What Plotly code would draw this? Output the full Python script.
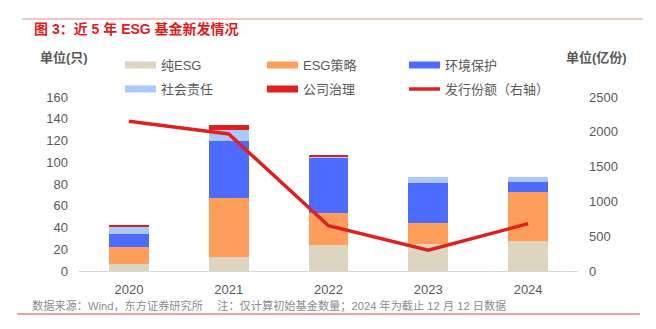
import plotly.graph_objects as go

# ---- data ----
years = ["2020", "2021", "2022", "2023", "2024"]
pure_esg = [6, 13, 24, 25, 28]          # 纯ESG
esg_strategy = [16, 54, 29, 19, 45]     # ESG策略
environment = [12, 53, 51, 37, 9]       # 环境保护
social = [7, 10, 1, 5, 4]               # 社会责任
governance = [1, 4, 1, 0, 0]            # 公司治理
issue_shares = [2150, 1970, 650, 300, 680]  # 发行份额（亿份，右轴）

left_ticks = [0, 20, 40, 60, 80, 100, 120, 140, 160]
right_ticks = [0, 500, 1000, 1500, 2000, 2500]

series = [
    ("纯ESG", pure_esg, "#ddd5bf"),
    ("ESG策略", esg_strategy, "#ff9d5a"),
    ("环境保护", environment, "#4d6bff"),
    ("社会责任", social, "#a9c8fb"),
    ("公司治理", governance, "#e0201e"),
]
line_name = "发行份额（右轴）"
line_color = "#e0201e"

W, H = 656, 329
ML, MR, MT, MB = 79, 78, 97, 58
PW, PH = W - ML - MR, H - MT - MB

FONT = "Liberation Sans, Noto Sans CJK SC, sans-serif"
GRAY = "#595959"


def px(x):
    return (x - ML) / PW


def py(y):
    return (H - MB - y) / PH


fig = go.Figure()
for name, vals, color in series:
    fig.add_trace(go.Bar(x=years, y=vals, name=name, marker=dict(color=color, line=dict(width=0)),
                         width=0.4, showlegend=False))

fig.add_trace(go.Scatter(x=years, y=issue_shares, name=line_name, mode="lines", yaxis="y2",
                         line=dict(color=line_color, width=3.5), showlegend=False))

shapes = []
annotations = []

# legend built from the series list
legend_pos = [(125, 65), (267, 65), (409, 65), (125, 89), (267, 89), (409, 89)]
entries = [(n, c, "bar") for n, _, c in series] + [(line_name, line_color, "line")]
for (x0, y0), (name, color, kind) in zip(legend_pos, entries):
    if kind == "bar":
        shapes.append(dict(type="rect", xref="paper", yref="paper", x0=px(x0), x1=px(x0 + 31),
                           y0=py(y0 - 3.5), y1=py(y0 + 3.5), fillcolor=color, line=dict(width=0)))
    else:
        shapes.append(dict(type="line", xref="paper", yref="paper", x0=px(x0), x1=px(x0 + 31),
                           y0=py(y0), y1=py(y0), line=dict(color=color, width=3.5)))
    annotations.append(dict(text=name, xref="paper", yref="paper", x=px(x0 + 34), y=py(y0),
                            xanchor="left", yanchor="middle", showarrow=False,
                            font=dict(family=FONT, size=13, color=GRAY)))

# header and footer rules
shapes.append(dict(type="line", xref="paper", yref="paper", x0=px(22), x1=px(643),
                   y0=py(19), y1=py(19), line=dict(color="#ec8a8a", width=1)))
shapes.append(dict(type="line", xref="paper", yref="paper", x0=px(17), x1=px(640),
                   y0=py(314), y1=py(314), line=dict(color="#e84040", width=1)))

annotations += [
    dict(text="<b>图 3：近 5 年 ESG 基金新发情况</b>", xref="paper", yref="paper", x=px(32), y=py(29),
         xanchor="left", yanchor="middle", showarrow=False,
         font=dict(family=FONT, size=14, color="#e0201e")),
    dict(text="<b>单位(只)</b>", xref="paper", yref="paper", x=px(64), y=py(57),
         xanchor="center", yanchor="middle", showarrow=False,
         font=dict(family=FONT, size=13, color=GRAY)),
    dict(text="<b>单位(亿份)</b>", xref="paper", yref="paper", x=px(596), y=py(57),
         xanchor="center", yanchor="middle", showarrow=False,
         font=dict(family=FONT, size=13, color=GRAY)),
    dict(text="数据来源：Wind，东方证券研究所　 注：仅计算初始基金数量；2024 年为截止 12 月 12 日数据",
         xref="paper", yref="paper", x=px(30), y=py(305), xanchor="left", yanchor="middle",
         showarrow=False, font=dict(family=FONT, size=11.2, color="#8c8c8c")),
]

fig.update_layout(
    width=W, height=H, margin=dict(l=ML, r=MR, t=MT, b=MB),
    barmode="stack", bargap=0.6,
    plot_bgcolor="white", paper_bgcolor="white",
    font=dict(family=FONT, color=GRAY),
    xaxis=dict(showgrid=False, showline=True, linecolor="#d9d9d9", linewidth=1,
               tickfont=dict(size=13, color=GRAY), ticks="", ticklabelstandoff=6),
    yaxis=dict(range=[0, 160], tickvals=left_ticks, showgrid=False, zeroline=False,
               showline=False, tickfont=dict(size=13, color=GRAY), ticklabelstandoff=10),
    yaxis2=dict(range=[0, 2500], tickvals=right_ticks, overlaying="y", side="right",
                showgrid=False, zeroline=False, showline=False,
                tickfont=dict(size=13, color=GRAY), ticklabelstandoff=10),
    shapes=shapes, annotations=annotations, showlegend=False,
)

fig.write_html("out.html")
